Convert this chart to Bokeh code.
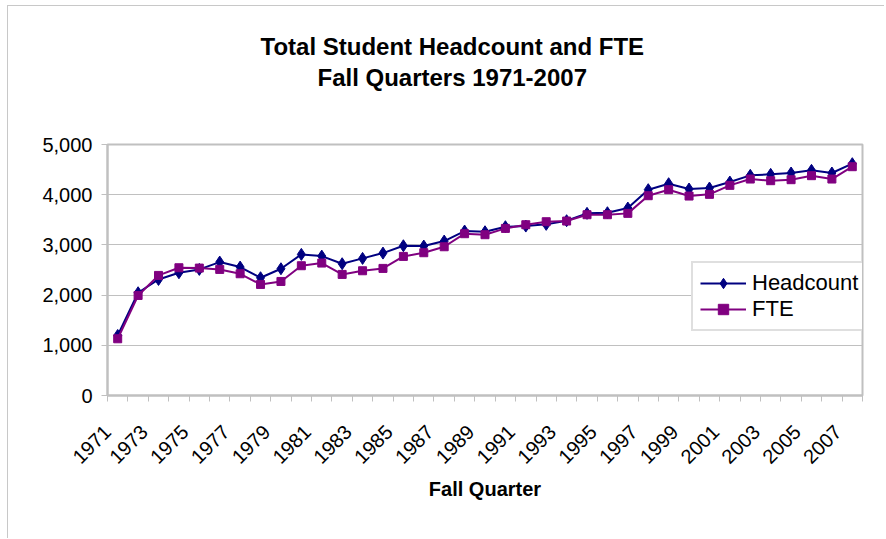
import math
from bokeh.plotting import figure
from bokeh.layouts import column
from bokeh.models import (Range1d, FixedTicker, NumeralTickFormatter, Legend,
                          LegendItem, Label)
from bokeh.embed import file_html
from bokeh.resources import INLINE

years = list(range(1971, 2008))
headcount = [1196, 2047, 2312, 2445, 2512, 2658, 2558, 2346, 2525, 2811, 2777, 2625,
             2731, 2837, 2983, 2977, 3076, 3276, 3262, 3362, 3375, 3409, 3482, 3628,
             3641, 3734, 4100, 4219, 4113, 4133, 4252, 4385, 4405, 4432, 4485, 4432, 4618]
fte = [1130, 1993, 2392, 2545, 2538, 2512, 2425, 2213, 2272, 2585, 2638, 2412,
       2485, 2532, 2771, 2844, 2963, 3223, 3203, 3329, 3402, 3462, 3475, 3601,
       3601, 3628, 3980, 4100, 3973, 4007, 4186, 4312, 4279, 4299, 4379, 4312, 4558]
y_ticks = [0, 1000, 2000, 3000, 4000, 5000]
x_label_years = years[::2]
title_lines = ["Total Student Headcount and FTE", "Fall Quarters 1971-2007"]

FONT = "Liberation Sans"
GRAY = "#c0c0c0"
BORDER = "#c8c8c8"
OX, OY = 8, 6          # chart-area border (1px) sits at page x=7, y=5
W = 884 - OX
TITLE_H = 100 - OY
MAIN_H = 438
FRAME_L, FRAME_R = 107, 862   # page x of the plot area
BORDER_L = FRAME_L - OX
BORDER_R = W - (FRAME_R - OX)
LABEL_SHIFT = 0.7      # rotated year labels sit a little left of their point

# ---- title strip (blank figure holding the two title lines) ----
# its frame is aligned with the chart frame by the column, so use page x coordinates
tf = figure(width=W, height=TITLE_H, x_range=Range1d(FRAME_L, FRAME_R),
            y_range=Range1d(0, TITLE_H),
            x_axis_location=None, y_axis_location=None,
            output_backend="svg", toolbar_location=None,
            min_border_left=BORDER_L, min_border_right=BORDER_R,
            min_border_top=0, min_border_bottom=0)
tf.grid.visible = False
tf.outline_line_color = None
for txt, lx, cy in zip(title_lines, [260, 317], [45.5 - OY, 77 - OY]):
    tf.add_layout(Label(x=lx, y=TITLE_H - cy, text=txt, text_align="left",
                        text_baseline="middle",
                        text_font=FONT, text_font_size="24px", text_font_style="bold",
                        text_color="black"))

# ---- main chart ----
x_start, x_end = years[0] - 0.5, years[-1] + 0.5
p = figure(width=W, height=MAIN_H,
           x_range=Range1d(x_start, x_end),
           y_range=Range1d(0, 5000),
           output_backend="svg", toolbar_location=None,
           min_border_left=BORDER_L, min_border_right=BORDER_R,
           min_border_top=144 - 100, min_border_bottom=MAIN_H - 295)

p.outline_line_color = GRAY
p.outline_line_width = 2
p.xgrid.visible = False
p.ygrid.grid_line_color = GRAY
p.ygrid.grid_line_width = 1

# y axis
p.yaxis.ticker = FixedTicker(ticks=y_ticks)
p.yaxis.formatter = NumeralTickFormatter(format="0,0")
p.yaxis.axis_line_color = GRAY
p.yaxis.axis_line_width = 2
p.yaxis.major_tick_line_color = GRAY
p.yaxis.major_tick_out = 6
p.yaxis.major_tick_in = 0
p.yaxis.minor_tick_line_color = None
p.yaxis.major_label_text_font = FONT
p.yaxis.major_label_text_font_size = "20px"
p.yaxis.major_label_text_color = "black"
p.yaxis.major_label_standoff = 9

# x axis: category-boundary tick marks, year labels every other year
label_pos = [max(y - LABEL_SHIFT, x_start) for y in x_label_years]
p.xaxis.ticker = FixedTicker(ticks=label_pos,
                             minor_ticks=[y - 0.5 for y in years] + [x_end])
p.xaxis.major_label_overrides = {pos: str(y) for pos, y in zip(label_pos, x_label_years)}
p.xaxis.axis_line_color = GRAY
p.xaxis.axis_line_width = 2
p.xaxis.major_tick_in = 0
p.xaxis.major_tick_out = 0
p.xaxis.minor_tick_in = 0
p.xaxis.minor_tick_out = 6
p.xaxis.minor_tick_line_color = GRAY
p.xaxis.major_label_orientation = math.pi / 4
p.xaxis.major_label_text_font = FONT
p.xaxis.major_label_text_font_size = "20px"
p.xaxis.major_label_text_color = "black"
p.xaxis.major_label_standoff = 27
p.xaxis.axis_label = "Fall Quarter"
p.xaxis.axis_label_text_font = FONT
p.xaxis.axis_label_text_font_size = "20px"
p.xaxis.axis_label_text_font_style = "bold"
p.xaxis.axis_label_text_color = "black"
p.xaxis.axis_label_standoff = 5

# series
hl = p.line(years, headcount, line_color="#000080", line_width=2)
hm = p.scatter(years, headcount, marker="diamond", size=12,
               fill_color="#000080", line_color="#000080")
fl = p.line(years, fte, line_color="#800080", line_width=2)
fm = p.scatter(years, fte, marker="square", size=8,
               fill_color="#800080", line_color="#800080")

legend = Legend(items=[LegendItem(label="Headcount", renderers=[hl, hm]),
                       LegendItem(label="FTE", renderers=[fl, fm])],
                location=(584, 64))
legend.label_text_font = FONT
legend.label_text_font_size = "22px"
legend.label_text_color = "black"
legend.glyph_width = 46
legend.glyph_height = 26
legend.label_height = 26
legend.label_standoff = 6
legend.padding = 7
legend.spacing = 0
legend.margin = 0
legend.border_line_color = GRAY
legend.border_line_width = 2
legend.background_fill_alpha = 1.0
p.add_layout(legend, "center")

layout = column(tf, p, spacing=0, margin=(OY - 1, 0, 0, OX - 1),
                styles={"border-top": f"1px solid {BORDER}",
                        "border-left": f"1px solid {BORDER}"})
open("out.html", "w").write(file_html(layout, INLINE))
